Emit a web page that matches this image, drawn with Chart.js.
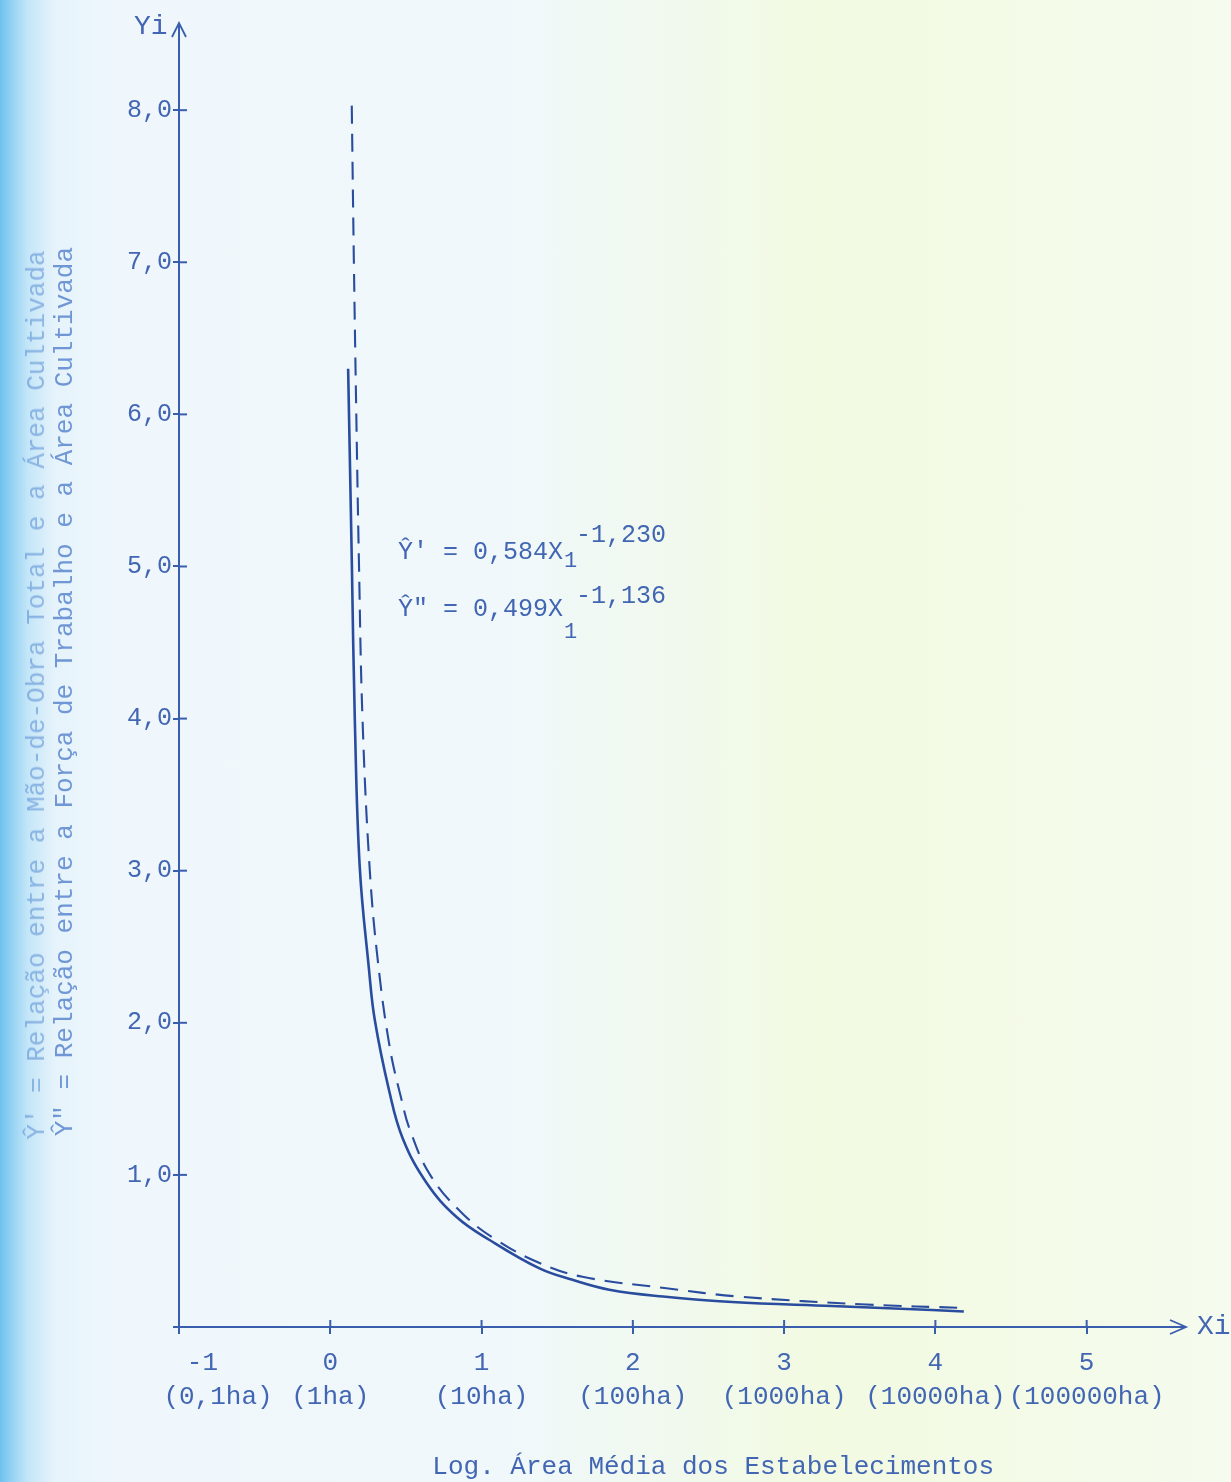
<!DOCTYPE html>
<html><head><meta charset="utf-8">
<script src="https://cdn.jsdelivr.net/npm/chart.js@4"></script>
<style>
html,body{margin:0;padding:0;}
body{width:1231px;height:1482px;overflow:hidden;position:relative;
background:linear-gradient(to right,#6ec2ee 0px,#8fd0f2 10px,#c4e6f8 28px,#e6f3fb 55px,#eff7fc 120px,#f0f8fb 500px,#f1f9ee 680px,#f2fae2 820px,#f3fae6 1000px,#f5fbee 1231px);
font-family:"Liberation Mono",monospace;}
canvas{position:absolute;left:0;top:0;}
.t{position:absolute;white-space:nowrap;color:#4266b3;line-height:1;}
</style></head><body>
<canvas id="c" width="1231" height="1482"></canvas>
<div class="t" style="left:134px;top:13px;font-size:28px;">Yi</div>
<div class="t" style="left:1197px;top:1313px;font-size:28px;">Xi</div>
<div class="t" style="left:398px;top:540px;font-size:25px;">Ŷ'  = 0,584X</div>
<div class="t" style="left:576px;top:523px;font-size:25px;">-1,230</div>
<div class="t" style="left:564px;top:551px;font-size:22px;">1</div>
<div class="t" style="left:398px;top:597px;font-size:25px;">Ŷ"  = 0,499X</div>
<div class="t" style="left:576px;top:584px;font-size:25px;">-1,136</div>
<div class="t" style="left:564px;top:622px;font-size:22px;">1</div>
<div class="t" style="left:37px;top:695px;font-size:26px;color:rgba(70,125,205,0.5);transform:translate(-50%,-50%) rotate(-90deg);">Ŷ' = Relação entre a Mão-de-Obra Total e a Área Cultivada</div>
<script>
// ---- data (x = log of mean area, y = ratio) ----
const solidX  = [0.118, 0.143, 0.162, 0.195, 0.256, 0.294, 0.39, 0.479, 0.637, 0.835, 1.053, 1.383, 1.601, 1.845, 2.2, 2.657, 3.317, 3.977, 4.188];
const solidY  = [6.30, 5.00, 4.00, 3.02, 2.35, 2.02, 1.55, 1.24, 0.947, 0.723, 0.572, 0.385, 0.31, 0.245, 0.20, 0.164, 0.138, 0.112, 0.102];
const dashedX = [0.142, 0.156, 0.172, 0.19, 0.213, 0.26, 0.314, 0.393, 0.472, 0.525, 0.66, 0.875, 1.099, 1.383, 1.667, 2.221, 2.703, 3.541, 4.201];
const dashedY = [8.03, 7.00, 6.00, 5.00, 4.00, 3.02, 2.41, 1.84, 1.49, 1.30, 1.0, 0.745, 0.572, 0.421, 0.33, 0.255, 0.20, 0.148, 0.125];
const xTickValues = [-1, 0, 1, 2, 3, 4, 5];
const xTickLabels = [["   -1", "     (0,1ha)"], ["0", "(1ha)"], ["1", "(10ha)"], ["2", "(100ha)"], ["3", "(1000ha)"], ["4", "(10000ha)"], ["5", "(100000ha)"]];
const yTickValues = [0, 1, 2, 3, 4, 5, 6, 7, 8];
const yTickLabels = ["", "1,0", "2,0", "3,0", "4,0", "5,0", "6,0", "7,0", "8,0"];
const xTitle = "    Log. Área Média dos Estabelecimentos";
const yTitle = "Ŷ\" = Relação entre a Força de Trabalho e a Área Cultivada  ";

const AXIS = '#3a5eae', TXT = '#4266b3', LINE = '#2a4c9e';
Chart.defaults.font.family = '"Liberation Mono", monospace';

const toPts = (xs, ys) => xs.map((x, i) => ({x, y: ys[i]}));

const axisExtras = {
  id: 'axisExtras',
  afterDraw(chart) {
    const {ctx, chartArea: a, scales: {x, y}} = chart;
    ctx.save();
    ctx.strokeStyle = AXIS; ctx.lineWidth = 2;
    yTickValues.forEach(v => { if (v === 0) return; const py = y.getPixelForValue(v);
      ctx.beginPath(); ctx.moveTo(a.left, py); ctx.lineTo(a.left + 8, py); ctx.stroke(); });
    xTickValues.forEach(v => { if (v === -1) return; const px = x.getPixelForValue(v);
      ctx.beginPath(); ctx.moveTo(px, a.bottom); ctx.lineTo(px, a.bottom - 7); ctx.stroke(); });
    ctx.lineWidth = 1.8;
    ctx.beginPath(); ctx.moveTo(a.left - 7, a.top + 12); ctx.lineTo(a.left, a.top - 2); ctx.lineTo(a.left + 7, a.top + 12); ctx.stroke();
    ctx.beginPath(); ctx.moveTo(a.right - 15, a.bottom - 7); ctx.lineTo(a.right + 1, a.bottom); ctx.lineTo(a.right - 15, a.bottom + 7); ctx.stroke();
    ctx.restore();
  }
};

new Chart(document.getElementById('c'), {
  type: 'line',
  data: {
    datasets: [
      { data: toPts(solidX, solidY), borderColor: LINE, borderWidth: 2.6, pointRadius: 0, tension: 0.4, fill: false },
      { data: toPts(dashedX, dashedY), borderColor: LINE, borderWidth: 2.1, borderDash: [18, 10], pointRadius: 0, tension: 0.4, fill: false }
    ]
  },
  options: {
    responsive: false, animation: false, devicePixelRatio: 1,
    layout: { padding: { left: 0, top: 25, right: 46, bottom: 0 } },
    plugins: { legend: { display: false }, tooltip: { enabled: false } },
    scales: {
      x: {
        type: 'linear', min: -1, max: 5.65,
        afterFit: s => { s.height = 155; },
        afterBuildTicks: s => { s.ticks = xTickValues.map(v => ({value: v})); },
        grid: { display: true, drawOnChartArea: false, drawTicks: true, tickLength: 7, color: AXIS, lineWidth: 2 },
        border: { display: true, color: AXIS, width: 2 },
        ticks: { color: TXT, font: { size: 26, lineHeight: 1.3 }, padding: 12, maxRotation: 0, autoSkip: false,
          callback: v => xTickLabels[xTickValues.indexOf(v)] ?? '' },
        title: { display: true, text: xTitle, color: TXT, font: { size: 26, lineHeight: 1 }, padding: { top: 0, bottom: 2 } }
      },
      y: {
        type: 'linear', min: 0, max: 8.56,
        afterFit: s => { s.width = 179; },
        afterBuildTicks: s => { s.ticks = yTickValues.map(v => ({value: v})); },
        grid: { display: true, drawOnChartArea: false, drawTicks: true, tickLength: 6, color: AXIS, lineWidth: 2 },
        border: { display: true, color: AXIS, width: 2 },
        ticks: { color: TXT, font: { size: 25 }, padding: 1, autoSkip: false,
          callback: v => yTickLabels[yTickValues.indexOf(v)] ?? '' },
        title: { display: true, text: yTitle, color: '#6f97d6', font: { size: 26, lineHeight: 1 }, padding: { top: 52, bottom: 0 } }
      }
    }
  },
  plugins: [axisExtras]
});
</script>
</body></html>
